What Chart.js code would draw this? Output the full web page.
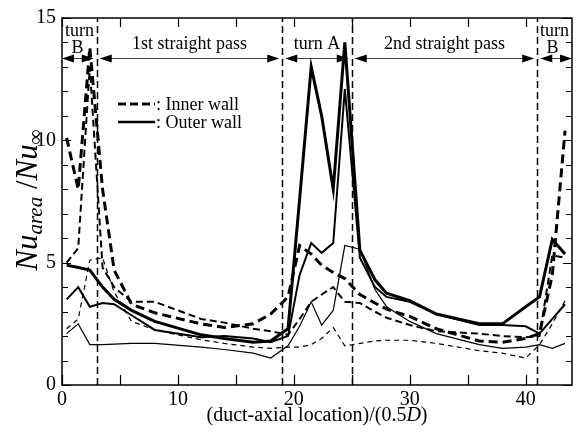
<!DOCTYPE html>
<html><head><meta charset="utf-8">
<script src="https://cdn.jsdelivr.net/npm/chart.js@4/dist/chart.umd.min.js"></script>
<style>html,body{margin:0;padding:0;background:#fff}#wrap{width:578px;height:440px}</style>
</head><body><div id="wrap"><canvas id="c" width="578" height="440"></canvas></div>
<script>
// ---- data ----
const xPos       = [0.4, 1.4, 2.4, 3.5, 4.5, 6, 8, 12, 14, 16.5, 18, 19.5, 20.5, 21.5, 22.4, 23.4, 24.4, 25.7, 27, 28, 30, 32.3, 36, 38, 40, 41.2, 42.3, 43.4];
const innerThick = [10.1, 8.0, 13.8, 8.0, 4.7, 3.3, 2.95, 2.5, 2.35, 2.5, 2.9, 3.6, 5.7, 5.35, 4.9, 4.6, 4.35, 3.7, 3.35, 3.1, 2.8, 2.3, 1.8, 1.75, 1.9, 2.1, 4.5, 10.4];
const innerMed   = [5.0, 5.6, 13.0, 4.8, 4.0, 3.4, 3.4, 2.7, 2.55, 2.3, 2.2, 2.05, 2.7, 3.4, 3.7, 4.0, 3.4, 3.35, 3.0, 2.75, 2.45, 2.2, 2.1, 2.0, 1.95, 2.0, 5.3, 5.2];
const innerThin  = [2.3, 2.7, 5.1, 5.2, 3.8, 2.6, 2.25, 1.85, 1.7, 1.55, 1.5, 1.55, 1.55, 1.65, 1.9, 2.35, 1.6, 1.7, 1.8, 1.83, 1.83, 1.7, 1.4, 1.3, 1.1, 1.65, 2.5, 3.45];
const outerThick = [4.9, 4.8, 4.7, 4.0, 3.5, 3.05, 2.6, 2.05, 1.9, 1.75, 1.8, 2.3, 7.6, 13.0, 11.0, 8.0, 14.0, 5.5, 4.3, 3.75, 3.45, 2.9, 2.5, 2.5, 3.2, 3.6, 5.95, 5.35];
const outerMed   = [3.5, 4.0, 3.2, 3.35, 3.3, 2.85, 2.25, 1.95, 2.0, 1.9, 1.75, 2.0, 4.5, 5.8, 5.4, 5.8, 12.1, 5.2, 4.0, 3.6, 3.4, 2.9, 2.45, 2.45, 2.4, 2.1, 2.7, 3.3];
const outerThin  = [2.1, 2.5, 1.65, 1.65, 1.67, 1.7, 1.7, 1.55, 1.45, 1.3, 1.1, 1.6, 2.4, 3.4, 2.45, 3.05, 5.7, 5.55, 3.9, 3.2, 2.6, 2.1, 1.65, 1.5, 1.55, 1.65, 1.5, 1.7];

const xTicks = [0, 10, 20, 30, 40];
const yTicks = [0, 5, 10, 15];
const xMax = 44, yMax = 15;
const boundaries = [3, 19, 25, 41];
const sectionLabels = [['turn', 'B'], ['1st straight pass'], ['turn A'], ['2nd straight pass'], ['turn', 'B']];
const arrowLevel = 13.37;
const legendLabels = [': Inner wall', ': Outer wall'];
const xTitleParts = ['(duct-axial location)/(0.5', 'D', ')'];
const yTitleParts = ['Nu', 'area', ' /', 'Nu', '\u221E'];

// ---- styling ----
const SERIF = "'Liberation Serif','Times New Roman',serif";
function pts(ys){ return xPos.map((x,i)=>({x:x, y:ys[i]})); }
function ds(label, ys, w, dash){
  return {label, data: pts(ys), showLine:true, borderColor:'#000', backgroundColor:'#000',
          borderWidth:w, borderDash:dash, pointRadius:0, tension:0, fill:false};
}

const decor = {
  id:'decor',
  afterDatasetsDraw(chart){
    const {ctx, chartArea:a, scales:{x, y}} = chart;
    const px = v => x.getPixelForValue(v), py = v => y.getPixelForValue(v);
    ctx.save();
    ctx.strokeStyle = '#000'; ctx.fillStyle = '#000';
    // boundary dashed lines
    ctx.lineWidth = 1.5; ctx.setLineDash([7,4]);
    boundaries.forEach(b => { const X = Math.round(px(b)) + 0.5; ctx.beginPath(); ctx.moveTo(X, a.bottom); ctx.lineTo(X, a.top); ctx.stroke(); });
    ctx.setLineDash([]);
    // frame
    ctx.lineWidth = 1.5;
    ctx.strokeRect(a.left, a.top, a.right - a.left, a.bottom - a.top);
    // ticks (inward)
    ctx.lineWidth = 1.2;
    for (let v = 0; v <= yMax; v++) {
      const L = (v % 5 === 0) ? 9 : 6, Y = Math.round(py(v)) + 0.5;
      ctx.beginPath(); ctx.moveTo(a.left, Y); ctx.lineTo(a.left + L, Y); ctx.moveTo(a.right, Y); ctx.lineTo(a.right - L, Y); ctx.stroke();
    }
    for (let v = 0; v <= xMax; v += 5) {
      const X = Math.round(px(v)) + 0.5;
      ctx.beginPath(); ctx.moveTo(X, a.bottom); ctx.lineTo(X, a.bottom - 10); ctx.moveTo(X, a.top); ctx.lineTo(X, a.top + 9); ctx.stroke();
    }
    // section arrows and labels
    const edges = [0, ...boundaries, xMax];
    const ay = Math.round(py(arrowLevel)) + 0.5;
    ctx.font = '18px ' + SERIF; ctx.textAlign = 'center'; ctx.textBaseline = 'alphabetic';
    for (let i = 0; i < edges.length - 1; i++) {
      const x1 = px(edges[i]) + (i === 0 ? 0 : 3);
      const x2 = px(edges[i+1]) - (i === edges.length - 2 ? 0 : 3);
      ctx.strokeStyle = '#444'; ctx.lineWidth = 1;
      ctx.beginPath(); ctx.moveTo(x1 + 8, ay); ctx.lineTo(x2 - 8, ay); ctx.stroke();
      ctx.fillStyle = '#000';
      ctx.beginPath(); ctx.moveTo(x1, ay); ctx.lineTo(x1 + 12, ay - 4); ctx.lineTo(x1 + 12, ay + 4); ctx.closePath(); ctx.fill();
      ctx.beginPath(); ctx.moveTo(x2, ay); ctx.lineTo(x2 - 12, ay - 4); ctx.lineTo(x2 - 12, ay + 4); ctx.closePath(); ctx.fill();
      const cx = (px(edges[i]) + px(edges[i+1])) / 2;
      const lab = sectionLabels[i];
      if (lab.length === 2) { ctx.fillText(lab[0], cx, ay - 23); ctx.fillText(lab[1], cx - 2, ay - 6); }
      else ctx.fillText(lab[0], cx, ay - 10);
    }
    // legend
    ctx.strokeStyle = '#000';
    const lx = 118, lw = 37, ly = [104, 122];
    ctx.lineWidth = 3; ctx.setLineDash([8,4]);
    ctx.beginPath(); ctx.moveTo(lx, ly[0]); ctx.lineTo(lx + lw, ly[0]); ctx.stroke();
    ctx.setLineDash([]); ctx.lineWidth = 2.5;
    ctx.beginPath(); ctx.moveTo(lx, ly[1]); ctx.lineTo(lx + lw, ly[1]); ctx.stroke();
    ctx.font = '18px ' + SERIF; ctx.textAlign = 'left'; ctx.textBaseline = 'middle';
    ctx.fillText(legendLabels[0], lx + lw + 1, ly[0] + 1);
    ctx.fillText(legendLabels[1], lx + lw + 1, ly[1] + 1);
    // x title
    ctx.textBaseline = 'alphabetic';
    const fN = '20px ' + SERIF, fI = 'italic 20px ' + SERIF;
    ctx.font = fN; const w0 = ctx.measureText(xTitleParts[0]).width, w2 = ctx.measureText(xTitleParts[2]).width;
    ctx.font = fI; const w1 = ctx.measureText(xTitleParts[1]).width;
    let sx = (a.left + a.right) / 2 - (w0 + w1 + w2) / 2; const by = 421;
    ctx.font = fN; ctx.fillText(xTitleParts[0], sx, by); sx += w0;
    ctx.font = fI; ctx.fillText(xTitleParts[1], sx, by); sx += w1;
    ctx.font = fN; ctx.fillText(xTitleParts[2], sx, by);
    // y title (rotated)
    const big = 'italic 31px ' + SERIF, small = 'italic 21px ' + SERIF, mid = '31px ' + SERIF;
    const fonts = [big, small, mid, big, small];
    const shifts = [0, 5, 0, 0, 5];
    const widths = yTitleParts.map((t,i) => { ctx.font = fonts[i]; return ctx.measureText(t).width; });
    const total = widths.reduce((s,v) => s + v, 0);
    ctx.translate(37, 200); ctx.rotate(-Math.PI / 2);
    let u = -total / 2;
    yTitleParts.forEach((t,i) => { ctx.font = fonts[i]; ctx.fillText(t, u, shifts[i]); u += widths[i]; });
    ctx.restore();
  }
};

new Chart(document.getElementById('c'), {
  type: 'scatter',
  data: { datasets: [
    ds('Inner wall (thick)', innerThick, 3, [9,5]),
    ds('Inner wall (medium)', innerMed, 2, [7,4]),
    ds('Inner wall (thin)', innerThin, 1.2, [5,4]),
    ds('Outer wall (thick)', outerThick, 3, []),
    ds('Outer wall (medium)', outerMed, 2, []),
    ds('Outer wall (thin)', outerThin, 1.2, [])
  ]},
  options: {
    responsive: false, animation: false, devicePixelRatio: 1,
    layout: { padding: { top: 16, right: 6, left: 0, bottom: 0 } },
    plugins: { legend: { display: false }, tooltip: { enabled: false } },
    scales: {
      x: { type: 'linear', min: 0, max: xMax,
           afterBuildTicks: s => { s.ticks = xTicks.map(v => ({value: v})); },
           afterFit: s => { s.height = 55; },
           grid: { display: false, drawTicks: false }, border: { display: false },
           ticks: { color: '#000', padding: 3, maxRotation: 0, font: { family: SERIF, size: 20 } } },
      y: { type: 'linear', min: 0, max: yMax,
           afterBuildTicks: s => { s.ticks = yTicks.map(v => ({value: v})); },
           afterFit: s => { s.width = 62; },
           grid: { display: false, drawTicks: false }, border: { display: false },
           ticks: { color: '#000', padding: 6, font: { family: SERIF, size: 20 } } }
    }
  },
  plugins: [decor]
});
</script></body></html>
